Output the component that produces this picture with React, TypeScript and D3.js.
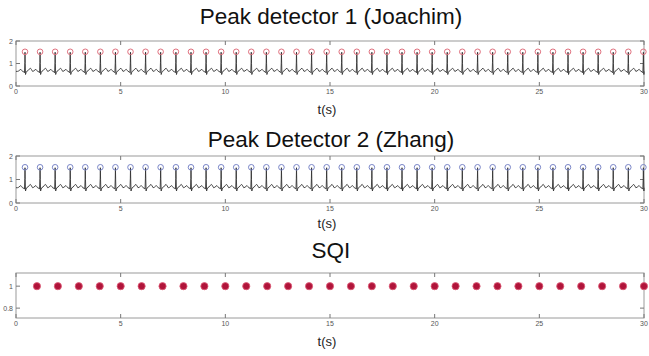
import React from "react";
import { scaleLinear, line } from "d3";

// R-peak times (s)
const peakTimes = [
  0.43, 1.15, 1.87, 2.59, 3.31, 4.03, 4.75, 5.47, 6.19, 6.91, 7.64, 8.36, 9.08, 9.8,
  10.52, 11.24, 11.96, 12.68, 13.4, 14.12, 14.84, 15.56, 16.28, 17.0, 17.72, 18.44,
  19.16, 19.88, 20.6, 21.32, 22.05, 22.77, 23.49, 24.21, 24.93, 25.65, 26.37, 27.09,
  27.81, 28.53, 29.25, 29.97,
];
const peakMarkValue = 1.52;

// one beat around the R peak: offset (s) and level above baseline
const beatOffsets = [-0.36, -0.3, -0.24, -0.2, -0.16, -0.12, -0.06, -0.025, -0.008, 0, 0.01, 0.025, 0.05, 0.08, 0.14, 0.2, 0.26, 0.31, 0.36];
const beatLevels = [0, 0.02, 0.07, 0.09, 0.05, 0, -0.02, -0.06, 0.4, 0.85, 0.35, -0.14, -0.06, 0, 0.03, 0.1, 0.14, 0.08, 0];
const baseline = 0.65;

// SQI, one value per second
const sqiTimes = [1, 2, 3, 4, 5, 6, 7, 8, 9, 10, 11, 12, 13, 14, 15, 16, 17, 18, 19, 20, 21, 22, 23, 24, 25, 26, 27, 28, 29, 30];
const sqiValues = [1, 1, 1, 1, 1, 1, 1, 1, 1, 1, 1, 1, 1, 1, 1, 1, 1, 1, 1, 1, 1, 1, 1, 1, 1, 1, 1, 1, 1, 1];

const xTicks = [0, 5, 10, 15, 20, 25, 30];

const W = 649;
const H = 356;
const left = 16;
const right = 644;

const x = scaleLinear().domain([0, 30]).range([left, right]);

const ecg: [number, number][] = [[0, baseline]];
peakTimes.forEach((p) => {
  beatOffsets.forEach((o, i) => {
    const t = p + o;
    if (t > 0 && t <= 30) ecg.push([t, baseline + beatLevels[i]]);
  });
});
ecg.push([30, baseline]);

type PanelProps = {
  top: number;
  bottom: number;
  domain: [number, number];
  yTicks: number[];
  title: string;
  titleY: number;
  labelY: number;
  children: (y: any) => React.ReactNode;
};

const Panel = ({ top, bottom, domain, yTicks, title, titleY, labelY, children }: PanelProps) => {
  const y = scaleLinear().domain(domain).range([bottom, top]);
  const tk = 4;
  return (
    <g>
      <text x={331} y={titleY} textAnchor="middle" fontSize={22.5} fontFamily="Liberation Sans, Arial, sans-serif" fill="#111">
        {title}
      </text>
      <rect x={left} y={top} width={right - left} height={bottom - top} fill="#fff" stroke="#9a9a9a" strokeWidth={1} />
      {xTicks.map((t) => (
        <g key={"x" + t}>
          <line x1={x(t)} x2={x(t)} y1={bottom} y2={bottom - tk} stroke="#777" />
          <line x1={x(t)} x2={x(t)} y1={top} y2={top + tk} stroke="#777" />
          <text x={x(t)} y={bottom + 8} textAnchor="middle" fontSize={7} fontFamily="Liberation Sans, Arial, sans-serif" fill="#555">
            {t}
          </text>
        </g>
      ))}
      {yTicks.map((v) => (
        <g key={"y" + v}>
          <line x1={left} x2={left + tk} y1={y(v)} y2={y(v)} stroke="#777" />
          <line x1={right} x2={right - tk} y1={y(v)} y2={y(v)} stroke="#777" />
          <text x={left - 3} y={y(v) + 2.5} textAnchor="end" fontSize={7} fontFamily="Liberation Sans, Arial, sans-serif" fill="#555">
            {v}
          </text>
        </g>
      ))}
      {children(y)}
      <text x={327} y={labelY} textAnchor="middle" fontSize={13} fontFamily="Liberation Sans, Arial, sans-serif" fill="#222">
        t(s)
      </text>
    </g>
  );
};

const EcgTrace = ({ y, color }: { y: any; color: string }) => {
  const path = line<[number, number]>()
    .x((d) => x(d[0]))
    .y((d) => y(d[1]));
  return (
    <g>
      <path d={path(ecg) || ""} fill="none" stroke="#333" strokeWidth={0.9} />
      {peakTimes.map((t, i) => (
        <circle key={i} cx={x(t)} cy={y(peakMarkValue)} r={2.8} fill="none" stroke={color} strokeWidth={1} />
      ))}
    </g>
  );
};

const App = () => {
  return (
    <div style={{ position: "fixed", left: 0, top: 0 }}>
      <svg width={W} height={H} style={{ display: "block", background: "#fff" }}>
        <Panel top={41} bottom={86} domain={[0, 2]} yTicks={[0, 1, 2]} title="Peak detector 1 (Joachim)" titleY={24} labelY={114}>
          {(y) => <EcgTrace y={y} color="#e0707e" />}
        </Panel>
        <Panel top={156} bottom={203} domain={[0, 2]} yTicks={[0, 1, 2]} title="Peak Detector 2 (Zhang)" titleY={147} labelY={228}>
          {(y) => <EcgTrace y={y} color="#7a86c8" />}
        </Panel>
        <Panel top={273} bottom={318} domain={[0.71, 1.12]} yTicks={[0.8, 1]} title="SQI" titleY={258} labelY={346}>
          {(y) => (
            <g>
              {sqiTimes.map((t, i) => (
                <circle key={i} cx={x(t)} cy={y(sqiValues[i])} r={3.6} fill="#b0143a" stroke="#e0607a" strokeWidth={0.8} />
              ))}
            </g>
          )}
        </Panel>
      </svg>
    </div>
  );
};

export default App;
